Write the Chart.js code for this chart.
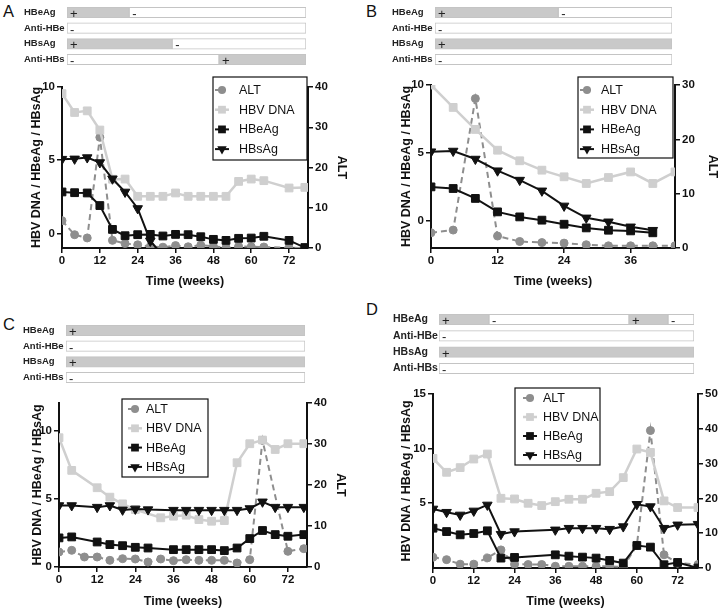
<!DOCTYPE html>
<html>
<head>
<meta charset="utf-8">
<script src="https://cdn.jsdelivr.net/npm/chart.js@4.4.1/dist/chart.umd.min.js"></script>
<style>
  body { margin: 0; background: #fff; }
  #page { position: relative; width: 720px; height: 611px; overflow: hidden; font-family: "Liberation Sans", Arial, sans-serif; }
  canvas { position: absolute; }
  .tag { position: absolute; font-size: 16.5px; color: #111; line-height: 1; }
</style>
</head>
<body>
<div id="page">
  <div class="tag" style="left:3px;top:3px">A</div>
  <div class="tag" style="left:366px;top:3px">B</div>
  <div class="tag" style="left:3px;top:316px">C</div>
  <div class="tag" style="left:366px;top:301px">D</div>
  <canvas id="statusA"></canvas>
  <canvas id="statusB"></canvas>
  <canvas id="statusC"></canvas>
  <canvas id="statusD"></canvas>
  <canvas id="chartA"></canvas>
  <canvas id="chartB"></canvas>
  <canvas id="chartC"></canvas>
  <canvas id="chartD"></canvas>
</div>
<script>
// serology rows, segments as [from %, to %, sign] along the bar
const statusRows = ["HBeAg", "Anti-HBe", "HBsAg", "Anti-HBs"];
const statusA = [[[0, 26, "+"], [26, 100, "-"]], [[0, 100, "-"]], [[0, 44, "+"], [44, 100, "-"]], [[0, 63.6, "-"], [63.6, 100, "+"]]];
const statusB = [[[0, 52, "+"], [52, 100, "-"]], [[0, 100, "-"]], [[0, 100, "+"]], [[0, 100, "-"]]];
const statusC = [[[0, 100, "+"]], [[0, 100, "-"]], [[0, 100, "+"]], [[0, 100, "-"]]];
const statusD = [[[0, 19.6, "+"], [19.6, 74.5, "-"], [74.5, 89.8, "+"], [89.8, 100, "-"]], [[0, 100, "-"]], [[0, 100, "+"]], [[0, 100, "-"]]];

const seriesNames = ["ALT", "HBV DNA", "HBeAg", "HBsAg"];
const xTicks = [0, 12, 24, 36, 48, 60, 72];

// panel A
const weeksA = [0, 4, 8, 12, 16, 20, 24, 28, 32, 36, 40, 44, 48, 52, 56, 60, 64, 72, 77];
const altA = [6.8, 3.3, 2.5, 27.5, 1.9, 1.1, 0.8, 0.4, 0.2, 0.6, 0.3, 0.7, 0.4, 0.1, 0.4, 0.3, 0.25, 0.1, 0];
const dnaA = [9.55, 8.26, 8.37, 7.06, 3.7, 3.71, 2.53, 2.53, 2.53, 2.76, 2.53, 2.53, 2.53, 2.53, 3.55, 3.71, 3.6, 3.1, 3.14];
const heagA = [2.83, 2.78, 2.76, 1.9, 0.27, -0.16, -0.09, -0.07, -0.18, -0.07, -0.09, -0.23, -0.41, -0.48, -0.34, -0.32, -0.2, -0.48, -0.97];
const hbsagA = [5.07, 5.09, 5.18, 4.84, 3.73, 2.83, 1.7, -0.52, -1.5, null, null, null, null, null, null, null, null, null, null];

// panel B
const weeksB = [0, 4, 8, 12, 16, 20, 24, 28, 32, 36, 40, 44];
const altB = [2.8, 3.3, 27.5, 2.2, 1.2, 1.0, 0.9, 0.6, 0.4, 0.4, 0.4, 0.4];
const dnaB = [10.0, 8.35, 6.73, 5.2, 4.42, 3.73, 3.24, 2.75, 3.19, 3.6, 2.75, 3.6];
const heagB = [2.5, 2.38, 1.65, 0.66, 0.29, 0.05, -0.25, -0.52, -0.69, -0.74, -0.88, null];
const hbsagB = [5.09, 5.14, 4.55, 3.69, 3.0, 2.21, 1.1, 0.22, -0.07, -0.44, -0.69, null];

// panel C
const weeksC = [0, 4, 8, 12, 16, 20, 24, 28, 32, 36, 40, 44, 48, 52, 56, 60, 64, 68, 72, 77];
const altC = [3.66, 4.07, 2.44, 2.44, 1.63, 2.03, 1.95, 1.22, 1.95, 1.54, 1.79, 1.63, 1.63, 1.63, 0.98, 1.79, 30.9, null, 3.82, 4.47];
const dnaC = [9.46, 7.07, null, 5.8, 5.11, 4.62, 4.2, null, 3.6, 3.72, 3.79, 3.47, 3.35, 3.4, 7.63, 9.02, 9.29, 8.6, 9.02, 9.02];
const heagC = [2.13, 2.2, null, 1.83, 1.64, 1.56, 1.44, 1.39, null, 1.27, 1.27, 1.27, 1.27, 1.2, 1.39, 2.08, 2.67, 2.37, 2.25, 2.37];
const hbsagC = [4.5, 4.5, null, 4.38, 4.5, 4.18, 4.25, 4.2, null, 4.16, 4.16, 4.16, 4.16, 4.16, 4.16, 4.28, 4.77, 4.38, 4.38, 4.38];

// panel D
const weeksD = [0, 4, 8, 12, 16, 20, 24, 28, 32, 36, 40, 44, 48, 52, 56, 60, 64, 68, 72, 78];
const altD = [3.1, 2.4, 1.1, 1.1, 2.9, 5.2, 1.1, 1.0, 1.0, 0.5, 0.5, 0.5, 0.5, 0.5, 0.3, 6.5, 39.5, 3.8, 1.4, 1.0];
const dnaD = [9.08, 7.8, 8.23, 9.02, 9.48, 5.41, 5.35, 4.95, 4.74, 5.1, 5.32, 5.32, 5.87, 6.02, 7.31, 9.94, 9.63, 5.17, 4.56, 4.56];
const heagD = [2.66, 2.35, 2.05, 2.17, 2.42, -0.09, -0.03, null, null, 0.21, 0.09, 0, -0.09, -0.31, -0.55, 1.07, 0.92, -0.7, -0.49, -1.0];
const hbsagD = [4.43, 4.13, 3.88, 4.25, 4.8, 2.11, 2.35, null, null, 2.51, 2.66, 2.66, 2.66, 2.57, 2.81, 4.86, 4.65, 2.66, 2.97, 3.03];

Chart.defaults.font.family = "'Liberation Sans', Arial, sans-serif";
Chart.defaults.color = "#111";

// ALT sits underneath everything else
const looks = [
  { color: "#8e8e8e", width: 2, dash: [6, 4], shape: "circle", r: 4, axis: "yR", order: 4 },
  { color: "#cfcfcf", width: 2.5, dash: [], shape: "rect", r: 5.5, axis: "yL", order: 3 },
  { color: "#111111", width: 2, dash: [], shape: "rect", r: 5.5, axis: "yL", order: 2 },
  { color: "#111111", width: 2, dash: [], shape: "triangle", r: 5.5, rot: 180, axis: "yL", order: 1 },
];

function mark(ctx, shape, x, y, r) {
  ctx.beginPath();
  if (shape === "circle") {
    ctx.arc(x, y, r, 0, Math.PI * 2);
  } else if (shape === "rect") {
    const s = r * Math.SQRT1_2;
    ctx.rect(x - s, y - s, 2 * s, 2 * s);
  } else {
    ctx.moveTo(x - r * 0.866, y - r * 0.5);
    ctx.lineTo(x + r * 0.866, y - r * 0.5);
    ctx.lineTo(x, y + r);
    ctx.closePath();
  }
  ctx.fill();
}

// boxed legend drawn inside the plot
const boxLegend = {
  id: "boxLegend",
  afterDraw(chart, args, o) {
    const ctx = chart.ctx;
    ctx.save();
    ctx.fillStyle = "#fff";
    ctx.fillRect(o.x, o.y, o.w, o.h);
    ctx.strokeStyle = "#111";
    ctx.lineWidth = 1.2;
    ctx.strokeRect(o.x, o.y, o.w, o.h);
    chart.data.datasets.forEach((ds, i) => {
      const s = looks[i];
      const y = o.y + o.first + i * o.gap;
      ctx.strokeStyle = s.color;
      ctx.fillStyle = s.color;
      ctx.lineWidth = s.width;
      ctx.setLineDash(i === 0 ? [4, 3] : []);
      ctx.beginPath();
      ctx.moveTo(o.mx - 7, y);
      ctx.lineTo(o.mx + 7, y);
      ctx.stroke();
      ctx.setLineDash([]);
      mark(ctx, s.shape, o.mx, y, s.r);
      ctx.fillStyle = "#111";
      ctx.font = "12.5px 'Liberation Sans', Arial, sans-serif";
      ctx.textBaseline = "middle";
      ctx.fillText(ds.label, o.tx, y + 0.5);
    });
    ctx.restore();
  },
};

function lineChart(id, frame, plot, p) {
  const cv = document.getElementById(id);
  cv.width = frame.w;
  cv.height = frame.h;
  cv.style.left = frame.x + "px";
  cv.style.top = frame.y + "px";
  const lh = 15;
  const leftW = plot.l - frame.x;
  const rightW = frame.x + frame.w - plot.r;
  const bottomH = frame.y + frame.h - plot.b;
  const topPad = plot.t - frame.y;

  const datasets = p.values.map((vals, i) => {
    const s = looks[i];
    return {
      label: seriesNames[i],
      data: p.weeks.map((w, j) => ({ x: w, y: vals[j] })),
      yAxisID: s.axis,
      borderColor: s.color,
      backgroundColor: s.color,
      pointBackgroundColor: s.color,
      pointBorderColor: s.color,
      borderWidth: s.width,
      borderDash: s.dash,
      pointStyle: s.shape,
      pointRadius: s.r,
      pointRotation: s.rot || 0,
      pointBorderWidth: 1,
      order: s.order,
      spanGaps: true,
      tension: 0,
    };
  });

  const tickFont = { size: 11.5, weight: "bold" };
  const titleFont = { size: 12.5, weight: "bold" };
  const grid = { drawOnChartArea: false, drawTicks: true, tickLength: 5, color: "#111", lineWidth: 1.5 };
  const border = { color: "#111", width: 2 };
  const lg = p.legend;

  new Chart(cv, {
    type: "line",
    data: { datasets },
    options: {
      responsive: false,
      animation: false,
      devicePixelRatio: 1,
      layout: { padding: { top: topPad, left: 0, right: 0, bottom: 0 } },
      plugins: {
        legend: { display: false },
        tooltip: { enabled: false },
        boxLegend: {
          x: lg.x - frame.x, y: lg.y - frame.y, w: lg.w, h: lg.h,
          first: lg.first, gap: lg.gap, mx: lg.mx - frame.x, tx: lg.tx - frame.x,
        },
      },
      scales: {
        x: {
          type: "linear", min: 0, max: p.xMax,
          ticks: { stepSize: 12, font: tickFont, color: "#111", padding: 1 },
          afterBuildTicks: (s) => { s.ticks = xTicks.filter((v) => v <= p.xMax).map((v) => ({ value: v })); },
          grid, border,
          title: {
            display: true, text: "Time (weeks)", font: titleFont, color: "#111",
            padding: { top: 0, bottom: Math.max(0, frame.y + frame.h - p.xTitleY - lh / 2) },
          },
          afterFit: (s) => { s.height = bottomH; },
        },
        yL: {
          position: "left", min: p.leftMin, max: p.leftMax,
          ticks: { stepSize: 5, font: tickFont, color: "#111", padding: 2 },
          afterBuildTicks: (s) => { s.ticks = s.ticks.filter((t) => t.value % 5 === 0); },
          grid, border,
          title: {
            display: true, text: "HBV DNA / HBeAg / HBsAg", font: titleFont, color: "#111",
            padding: { top: Math.max(0, p.leftTitleX - frame.x - lh / 2), bottom: 0 },
          },
          afterFit: (s) => { s.width = leftW; },
        },
        yR: {
          position: "right", min: 0, max: p.rightMax,
          ticks: { stepSize: 10, font: tickFont, color: "#111", padding: 2 },
          grid, border,
          title: {
            display: p.rightTitleX !== null, text: "ALT", font: titleFont, color: "#111",
            padding: { top: Math.max(0, frame.x + frame.w - (p.rightTitleX || 0) - lh / 2), bottom: 0 },
          },
          afterFit: (s) => { s.width = rightW; },
        },
      },
    },
    plugins: [boxLegend],
  });
}

// "+" / "-" written at the start of each serology segment
const signText = {
  id: "signText",
  afterDatasetsDraw(chart) {
    const ctx = chart.ctx;
    ctx.save();
    ctx.fillStyle = "#222";
    ctx.font = "13px 'Liberation Sans', Arial, sans-serif";
    ctx.textBaseline = "middle";
    chart.data.datasets.forEach((ds, k) => {
      chart.getDatasetMeta(k).data.forEach((el, i) => {
        if (!ds.signs[i]) return;
        const left = Math.min(el.x, el.base);
        ctx.fillText(ds.signs[i], left + 3, el.y + 2);
      });
    });
    ctx.restore();
  },
};

function statusChart(id, g, segs) {
  const cv = document.getElementById(id);
  const w = g.barR + 1 - g.labelX;
  const h = 4 * g.gap;
  cv.width = w;
  cv.height = h;
  cv.style.left = g.labelX + "px";
  cv.style.top = g.row1 - g.gap / 2 + "px";
  const nSeg = Math.max(...segs.map((r) => r.length));
  const datasets = [];
  for (let k = 0; k < nSeg; k++) {
    datasets.push({
      data: segs.map((r) => (r[k] ? [r[k][0], r[k][1]] : null)),
      signs: segs.map((r) => (r[k] ? r[k][2] : "")),
      backgroundColor: segs.map((r) => (r[k] && r[k][2] === "+" ? "#c9c9c9" : "#ffffff")),
      borderColor: "#c4c4c4",
      borderWidth: 1,
      borderSkipped: false,
      barThickness: 10.5,
      grouped: false,
    });
  }
  new Chart(cv, {
    type: "bar",
    data: { labels: statusRows, datasets },
    options: {
      indexAxis: "y",
      responsive: false,
      animation: false,
      devicePixelRatio: 1,
      layout: { padding: { right: 1, left: 0, top: 0, bottom: 0 } },
      plugins: { legend: { display: false }, tooltip: { enabled: false } },
      scales: {
        x: { display: false, min: 0, max: 100 },
        y: {
          grid: { display: false },
          border: { display: false },
          ticks: { crossAlign: "far", padding: 0, font: { size: g.font, weight: "bold" }, color: "#222" },
          afterFit: (s) => { s.width = g.barL - g.labelX; },
        },
      },
    },
    plugins: [signText],
  });
}

statusChart("statusA", { labelX: 24, barL: 67, barR: 306, row1: 8, gap: 18.7, font: 9.5 }, statusA);
statusChart("statusB", { labelX: 392, barL: 435, barR: 672, row1: 8, gap: 18.5, font: 9.5 }, statusB);
statusChart("statusC", { labelX: 23, barL: 66, barR: 305, row1: 326, gap: 18.5, font: 9.5 }, statusC);
statusChart("statusD", { labelX: 393, barL: 439, barR: 694, row1: 314.5, gap: 19.7, font: 10.5 }, statusD);

lineChart("chartA", { x: 0, y: 75, w: 360, h: 230 }, { l: 62, t: 87, r: 308, b: 248 }, {
  weeks: weeksA, values: [altA, dnaA, heagA, hbsagA], xMax: 78,
  leftMin: -1, leftMax: 10, rightMax: 40,
  leftTitleX: 37, rightTitleX: 341.5, xTitleY: 282,
  legend: { x: 213, y: 77, w: 94, h: 83, first: 13, gap: 19.7, mx: 222, tx: 239 },
});
lineChart("chartB", { x: 360, y: 75, w: 360, h: 230 }, { l: 431, t: 85, r: 675, b: 248 }, {
  weeks: weeksB, values: [altB, dnaB, heagB, hbsagB], xMax: 44,
  leftMin: -2, leftMax: 10, rightMax: 30,
  leftTitleX: 406.7, rightTitleX: 713, xTitleY: 282,
  legend: { x: 578, y: 77, w: 95, h: 81, first: 13, gap: 19.7, mx: 587, tx: 601 },
});
lineChart("chartC", { x: 0, y: 390, w: 360, h: 221 }, { l: 59, t: 403, r: 307, b: 567 }, {
  weeks: weeksC, values: [altC, dnaC, heagC, hbsagC], xMax: 78,
  leftMin: 0, leftMax: 12, rightMax: 40,
  leftTitleX: 37.7, rightTitleX: 340, xTitleY: 601.5,
  legend: { x: 122, y: 399, w: 86, h: 78, first: 10, gap: 19.3, mx: 135, tx: 146 },
});
lineChart("chartD", { x: 360, y: 380, w: 360, h: 231 }, { l: 433, t: 394, r: 698, b: 568 }, {
  weeks: weeksD, values: [altD, dnaD, heagD, hbsagD], xMax: 78,
  leftMin: -1, leftMax: 15, rightMax: 50,
  leftTitleX: 406.7, rightTitleX: null, xTitleY: 601.5,
  legend: { x: 515, y: 388, w: 85, h: 77, first: 10, gap: 19, mx: 530, tx: 543 },
});
</script>
</body>
</html>
